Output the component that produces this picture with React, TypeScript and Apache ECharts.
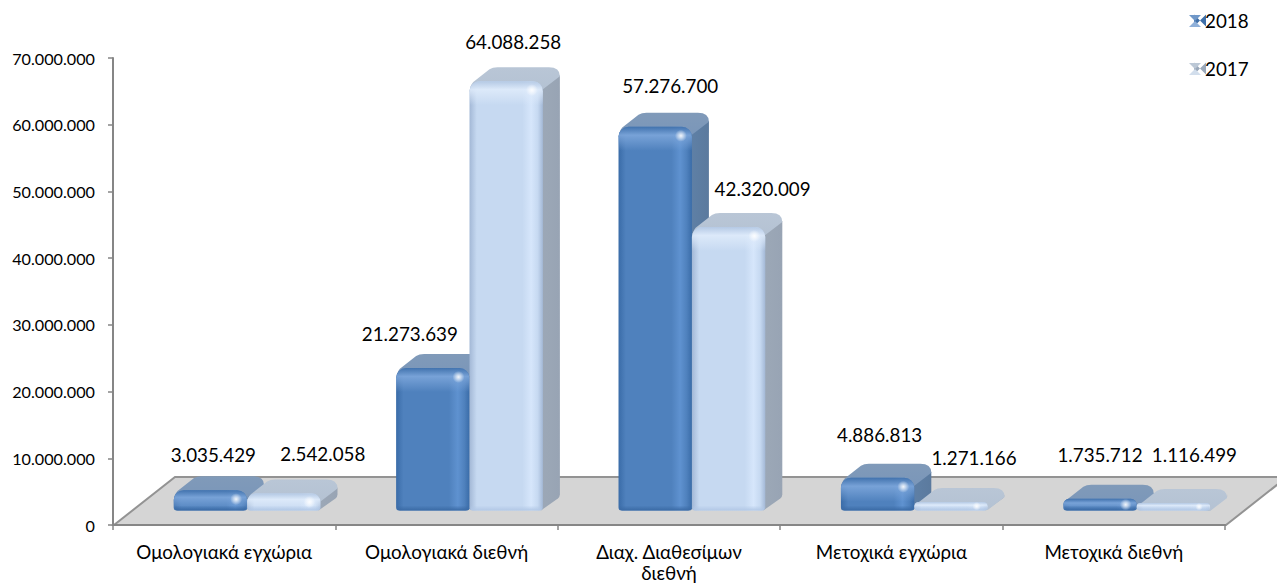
import React, { useEffect, useRef } from "react";
import * as echarts from "echarts";

const categories = ["Ομολογιακά εγχώρια", "Ομολογιακά διεθνή", "Διαχ. Διαθεσίμων\nδιεθνή", "Μετοχικά εγχώρια", "Μετοχικά διεθνή"];
const values2018 = [3035429, 21273639, 57276700, 4886813, 1735712];
const values2017 = [2542058, 64088258, 42320009, 1271166, 1116499];
const FONT = "Lato, 'Open Sans', 'Noto Sans', sans-serif";
const FS_LABEL = 18.8;
const FS_AXIS = 16.2;

// label nudges relative to the bar's top centre (layout only)
const nudge2018 = [[3, -36], [-23, -34], [15, -41], [2, -43], [0, -44]];
const nudge2017 = [[39, -40], [7, -40], [34, -38], [23, -44], [21, -49]];

const dotted = (v: number) => String(Math.round(v)).replace(/\B(?=(\d{3})+$)/g, ".");
const lg = (x: number, y: number, x2: number, y2: number, s: [number, string][]) =>
  new echarts.graphic.LinearGradient(x, y, x2, y2, s.map(([offset, color]) => ({ offset, color })));

type Pal = { edge: string; main: string; glow: string; rim: string; band: string; top: string; topHi: string; side: string; sideDark: string; bottom: string };
const pal2018: Pal = { edge: "#3a6ca8", main: "#4f81bd", glow: "#5f92d0", rim: "#3f70ab", band: "#7fa8dc", top: "#7a96b9", topHi: "#809ab9", side: "#5f80a6", sideDark: "#5b7a9e", bottom: "#3a6aa5" };
const pal2017: Pal = { edge: "#a3b8d6", main: "#c6d9f1", glow: "#d6e6fb", rim: "#b1c6e2", band: "#e0ecfb", top: "#b4c2d3", topHi: "#b9c6d6", side: "#9ca8b7", sideDark: "#98a4b4", bottom: "#b2c8e6" };

const makeRender = (seriesIdx: number, pal: Pal, nudge: number[][]) => (params: any, api: any) => {
  const cat = api.value(0);
  const val = api.value(1);
  const [cx, yTop] = api.coord([cat, val]);
  const [, yBase] = api.coord([cat, 0]);
  const band = api.size([1, 0])[0];
  const w = band * 0.33;
  const joint = cx + band * 0.103;
  const x0 = seriesIdx === 0 ? joint - w : joint;
  const x1 = x0 + w;
  const dx = 17, dy = 14;
  const h = Math.max(yBase - yTop, 7);
  const y = yBase - h;
  const r = Math.min(10, h / 2);
  const side = `M${x1 - 2} ${y + 6} L${x1 + dx} ${y - dy + 8} L${x1 + dx} ${yBase - dy - 2} Q${x1 + dx} ${yBase - dy} ${x1 + dx - 2} ${yBase - dy + 2} L${x1 - 2} ${yBase} Z`;
  const top = `M${x0} ${y + r} Q${x0 + 1} ${y + 2} ${x0 + 6} ${y - 1} L${x0 + 20} ${y - dy + 2} Q${x0 + 23} ${y - dy} ${x0 + 28} ${y - dy} L${x1 + 6} ${y - dy} Q${x1 + dx} ${y - dy} ${x1 + dx} ${y - dy + 9} L${x1} ${y + 8} Z`;
  const children: any[] = [
    { type: "path", shape: { pathData: side }, style: { fill: lg(0, 0, 1, 0, [[0, pal.side], [1, pal.sideDark]]) } },
    { type: "path", shape: { pathData: top }, style: { fill: lg(0, 0, 0, 1, [[0, pal.topHi], [1, pal.top]]) } },
    {
      type: "rect",
      shape: { x: x0, y, width: w, height: h, r: [r, r, 3, 3] },
      style: { fill: lg(0, 0, 1, 0, [[0, pal.edge], [0.1, pal.main], [0.72, pal.main], [0.84, pal.glow], [0.93, pal.main], [1, pal.edge]]) },
    },
    {
      type: "rect",
      shape: { x: x0, y, width: w, height: Math.min(24, h), r: [r, r, 0, 0] },
      style: { fill: lg(0, 0, 0, 1, [[0, pal.rim], [0.35, pal.band], [1, pal.band + "00"]]), opacity: 0.85 },
    },
    {
      type: "rect",
      shape: { x: x0 + 1, y: yBase - 5, width: w - 2, height: 5, r: [0, 0, 3, 3] },
      style: { fill: lg(0, 0, 0, 1, [[0, pal.bottom + "00"], [1, pal.bottom]]) },
    },
    {
      type: "circle",
      shape: { cx: x1 - 11, cy: y + Math.min(9, h / 2), r: Math.min(6, h / 2) },
      style: { fill: new echarts.graphic.RadialGradient(0.5, 0.5, 0.5, [{ offset: 0, color: "rgba(255,255,255,0.9)" }, { offset: 0.4, color: "rgba(255,255,255,0.55)" }, { offset: 1, color: "rgba(255,255,255,0)" }]) },
    },
    {
      type: "text",
      style: {
        x: (x0 + x1) / 2 + nudge[cat][0], y: y + nudge[cat][1], text: dotted(val),
        fill: "#000", font: `${FS_LABEL}px ${FONT}`, align: "center", verticalAlign: "middle",
      },
    },
  ];
  return { type: "group", children };
};

const floorPts = [[114, 525], [1226, 525], [1287, 477], [175, 477]];

export default function App() {
  const ref = useRef<HTMLDivElement>(null);
  useEffect(() => {
    document.body.style.margin = "0";
    const chart = echarts.init(ref.current!, undefined, { renderer: "svg" });
    const bowtie = "path://M0 0 L50 50 L0 100 Z M100 0 L50 50 L100 100 Z";
    chart.setOption({
      animation: false,
      textStyle: { fontFamily: FONT },
      grid: { left: 113, right: 52, top: 58, bottom: 60, outerBoundsMode: "none" },
      legend: {
        orient: "vertical", left: 1189, top: 6, itemWidth: 12, itemHeight: 12, itemGap: 29, icon: bowtie, itemStyle: { borderWidth: 0 },
        data: ["2018", "2017"],
        textStyle: { fontSize: FS_LABEL, color: "#000", fontFamily: FONT, padding: [0, 0, 0, -6] },
      },
      xAxis: {
        type: "category", data: categories,
        axisLine: { lineStyle: { color: "#868686", width: 2 } },
        axisTick: { show: true, length: 5, alignWithLabel: false, lineStyle: { color: "#868686", width: 1.5 } },
        axisLabel: { interval: 0, color: "#000", fontSize: FS_LABEL, fontFamily: FONT, margin: 16, lineHeight: 21, hideOverlap: false },
      },
      yAxis: [
        {
          type: "value", min: 0, max: 70000000, interval: 10000000, splitLine: { show: false },
          axisLine: { show: true, lineStyle: { color: "#868686", width: 2 } },
          axisTick: { show: true, length: 5, lineStyle: { color: "#868686", width: 1.5 } },
          axisLabel: { color: "#000", fontSize: FS_AXIS, fontFamily: FONT, margin: 18, formatter: (v: number) => dotted(v) },
        },
        // front plane of the 3-D bars: its base sits above the floor's near edge
        { type: "value", show: false, min: -2164000, max: 67540000, splitLine: { show: false } },
      ],
      graphic: [
        { type: "polygon", z: 0, shape: { points: floorPts }, style: { fill: "#d5d5d5", stroke: "#939393", lineWidth: 2 } },
        { type: "polygon", z: 10, shape: { points: [[1189, 15], [1201, 15], [1195, 21]] }, style: { fill: "#6f97c8" } },
        { type: "polygon", z: 10, shape: { points: [[1189, 27], [1201, 27], [1195, 21]] }, style: { fill: "#8fb0d9" } },
        { type: "polygon", z: 10, shape: { points: [[1189, 63], [1201, 63], [1195, 69]] }, style: { fill: "#bcc8d6" } },
        { type: "polygon", z: 10, shape: { points: [[1189, 75], [1201, 75], [1195, 69]] }, style: { fill: "#d2deec" } },
      ],
      series: [
        { type: "custom", name: "2018", yAxisIndex: 1, itemStyle: { color: "#3f6fa8" }, renderItem: makeRender(0, pal2018, nudge2018), encode: { x: 0, y: 1 }, data: values2018.map((v, i) => [i, v]), clip: false },
        { type: "custom", name: "2017", yAxisIndex: 1, itemStyle: { color: "#9aa8ba" }, renderItem: makeRender(1, pal2017, nudge2017), encode: { x: 0, y: 1 }, data: values2017.map((v, i) => [i, v]), clip: false },
      ],
    });
    return () => chart.dispose();
  }, []);
  return <div ref={ref} style={{ position: "fixed", left: 0, top: 0, width: 1277, height: 585, background: "#fff" }} />;
}
